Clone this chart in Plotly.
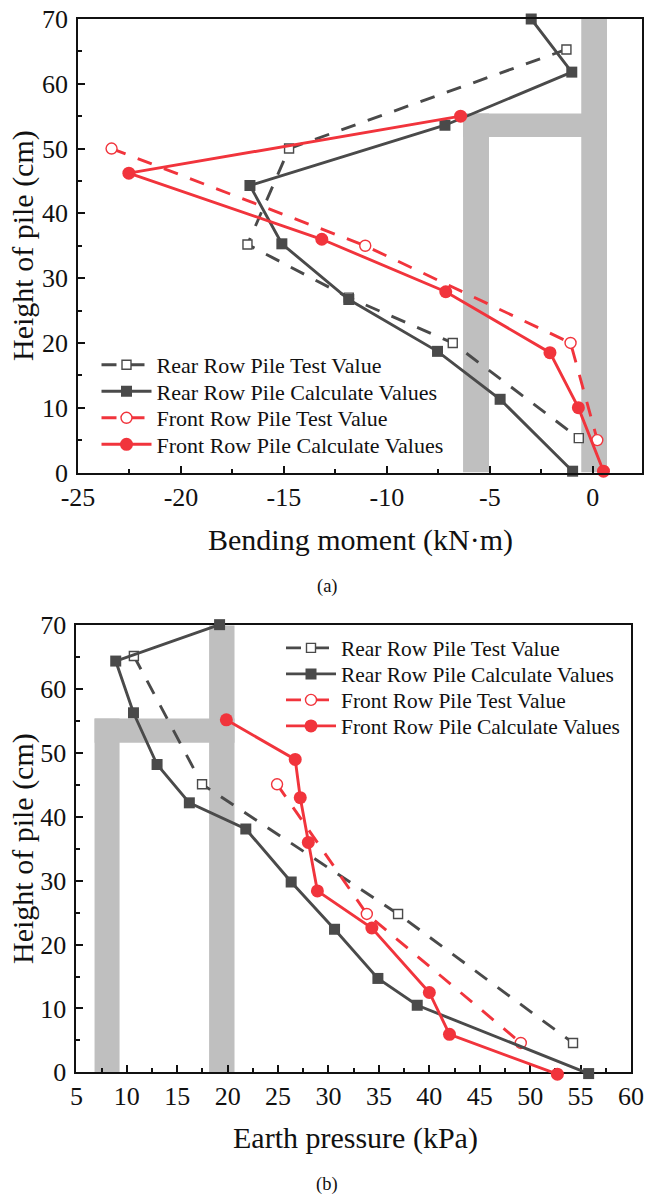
import plotly.graph_objects as go

W, H = 645, 1195
names = ["Rear Row Pile Test Value", "Rear Row Pile Calculate Values",
         "Front Row Pile Test Value", "Front Row Pile Calculate Values"]

# Panel (a)
a_rear_test_x = [-1.28, -14.75, -16.77, -11.85, -6.8, -0.68]
a_rear_test_y = [65.3, 50, 35.2, 27, 20, 5.3]
a_rear_calc_x = [-2.99, -1.02, -7.18, -16.65, -15.1, -11.85, -7.54, -4.5, -0.98]
a_rear_calc_y = [70, 61.8, 53.6, 44.3, 35.3, 26.7, 18.7, 11.3, 0.2]
a_front_test_x = [-23.37, -11.05, -1.08, 0.22]
a_front_test_y = [50, 35, 20, 5]
a_front_calc_x = [-6.42, -22.53, -13.16, -7.14, -2.08, -0.7, 0.52]
a_front_calc_y = [55, 46.2, 36, 27.9, 18.5, 10, 0.2]
a_xticks = [-25, -20, -15, -10, -5, 0]
a_xlabels = ["-25", "-20", "-15", "-10", "-5", "0"]
a_xminor = [-22.5, -17.5, -12.5, -7.5, -2.5]
a_right = [-0.56, 0.69]
a_left = [-6.3, -5.04]
a_band = [51.8, 55.4]

# Panel (b)
b_rear_test_x = [10.7, 17.46, 36.9, 54.25]
b_rear_test_y = [65.2, 45.1, 24.8, 4.6]
b_rear_calc_x = [19.2, 8.9, 10.66, 13.0, 16.2, 21.8, 26.3, 30.6, 34.9, 38.8, 55.8]
b_rear_calc_y = [70.1, 64.4, 56.3, 48.2, 42.2, 38.1, 29.8, 22.4, 14.7, 10.5, -0.2]
b_front_test_x = [24.9, 33.8, 49.07]
b_front_test_y = [45.1, 24.8, 4.6]
b_front_calc_x = [19.87, 26.7, 27.2, 28.0, 28.9, 34.3, 40.0, 42.0, 52.7]
b_front_calc_y = [55.2, 49, 43, 36, 28.4, 22.6, 12.5, 5.95, -0.3]
b_xticks = [5, 10, 15, 20, 25, 30, 35, 40, 45, 50, 55, 60]
b_xminor = [7.5, 12.5, 17.5, 22.5, 27.5, 32.5, 37.5, 42.5, 47.5, 52.5, 57.5]
b_right = [18.16, 20.68]
b_left = [6.8, 9.28]
b_band = [51.6, 55.4]

y_ticks = [0, 10, 20, 30, 40, 50, 60, 70]
y_minor = [5, 15, 25, 35, 45, 55, 65]

DARK, RED, GRAY = "#4a4a4a", "#f1343c", "#bfbfbf"
FONT = "Liberation Serif"
INK = "#111"
LW = 2.9

# pixel frames of the two panels
A_L, A_R, A_T, A_B = 78, 642, 19, 472.5
B_L, B_R, B_T, B_B = 76.4, 631, 625.3, 1072.3
PAD = 3  # data units of hidden headroom for panel (b) marks that sit just off the frame

def xdom(l, r): return [l / W, r / W]
def ydom(t, b): return [1 - b / H, 1 - t / H]

fig = go.Figure()

def series(xs, ys, name, color, test, square, xa, ya, leg):
    fig.add_trace(go.Scatter(
        x=xs, y=ys, name=name, mode="lines+markers", xaxis=xa, yaxis=ya, legend=leg,
        cliponaxis=False,
        line=dict(color=color, width=LW, dash="15px,13px" if test else "solid"),
        marker=dict(symbol="square" if square else "circle",
                    size=(9 if square else 11) if test else (11 if square else 13),
                    color="white" if test else color,
                    line=dict(color=color, width=1.4 if test else 0)),
    ))

panels = [
    ("x", "y", "y", 0, [(a_rear_test_x, a_rear_test_y), (a_rear_calc_x, a_rear_calc_y),
                        (a_front_test_x, a_front_test_y), (a_front_calc_x, a_front_calc_y)]),
    ("x2", "y2", "y3", 4, [(b_rear_test_x, b_rear_test_y), (b_rear_calc_x, b_rear_calc_y),
                           (b_front_test_x, b_front_test_y), (b_front_calc_x, b_front_calc_y)]),
]
for xa, ya_test, ya_calc, offset, d in panels:
    for i, (xs, ys) in enumerate(d):
        k = offset + i
        leg = "legend" if k == 0 else f"legend{k + 1}"
        series(xs, ys, names[i], DARK if i < 2 else RED, i % 2 == 0, i < 2, xa,
               ya_test if i % 2 == 0 else ya_calc, leg)

def rect(xa, ya, x0, x1, y0, y1):
    fig.add_shape(type="rect", xref=xa, yref=ya, x0=x0, x1=x1, y0=y0, y1=y1,
                  fillcolor=GRAY, line_width=0, layer="below")

for xa, ya, right, left, band in [("x", "y", a_right, a_left, a_band),
                                  ("x2", "y2", b_right, b_left, b_band)]:
    rect(xa, ya, right[0], right[1], 0, 70)
    rect(xa, ya, left[0], left[1], 0, band[1])
    rect(xa, ya, min(left[0], right[0]), max(left[1], right[1]), band[0], band[1])

def axis(vals, text, minor, rng, dom, standoff=0):
    return dict(
        range=rng, domain=dom, tickmode="array", tickvals=vals, ticktext=text,
        ticks="inside", ticklen=7, tickwidth=1.6, tickcolor=INK, automargin=False,
        ticklabelstandoff=standoff,
        minor=dict(tickvals=minor, ticks="inside", ticklen=4, tickwidth=1.6, tickcolor=INK),
        showline=True, linecolor=INK, linewidth=1.8, mirror=True,
        showgrid=False, zeroline=False,
        tickfont=dict(family=FONT, size=26, color=INK),
    )

ylab = [str(v) for v in y_ticks]

def legend_box(x, y, size):
    return dict(x=x / W, y=1 - y / H, xanchor="left", yanchor="middle",
                bgcolor="rgba(0,0,0,0)", itemwidth=50, tracegroupgap=0,
                font=dict(family=FONT, size=size, color=INK))

legend_rows_a = [365, 391.5, 418, 444.5]
legend_rows_b = [648, 674, 700, 726]
legends = {}
for i, y in enumerate(legend_rows_a + legend_rows_b):
    key = "legend" if i == 0 else f"legend{i + 1}"
    legends[key] = legend_box(96.5, y, 22) if i < 4 else legend_box(281, y, 21.4)

def note(text, x, y, size, angle=0):
    return dict(text=text, x=x / W, y=1 - y / H, xref="paper", yref="paper", showarrow=False,
                xanchor="center", yanchor="middle", textangle=angle,
                font=dict(family=FONT, size=size, color=INK))

fig.update_layout(
    width=W, height=H, margin=dict(l=0, r=0, t=0, b=0), autosize=False, showlegend=True,
    paper_bgcolor="white", plot_bgcolor="rgba(0,0,0,0)",
    xaxis=dict(axis(a_xticks, a_xlabels, a_xminor, [-25, 2.39], xdom(A_L, A_R)), anchor="y"),
    yaxis=dict(axis(y_ticks, ylab, y_minor, [0, 70], ydom(A_T, A_B), 3), anchor="x"),
    xaxis2=dict(axis(b_xticks, [str(v) for v in b_xticks], b_xminor, [5, 60], xdom(B_L, B_R)), anchor="y2"),
    yaxis2=dict(axis(y_ticks, ylab, y_minor, [0, 70], ydom(B_T, B_B), 3), anchor="x2"),
    yaxis3=dict(range=[-PAD, 70 + PAD], visible=False, anchor="x2", automargin=False,
                domain=ydom(B_T - PAD * (B_B - B_T) / 70, B_B + PAD * (B_B - B_T) / 70)),
    annotations=[
        note("Bending moment (kN·m)", 360, 540, 30),
        note("Height of pile (cm)", 23, 246, 30, -90),
        note("(a)", 327, 586, 18.5),
        note("Earth pressure (kPa)", 355, 1138, 30),
        note("Height of pile (cm)", 23, 849, 30, -90),
        note("(b)", 327, 1184, 18.5),
    ],
    **legends,
)
fig.write_html("out.html", config=dict(displayModeBar=False), post_script="document.body.style.margin='0';")
